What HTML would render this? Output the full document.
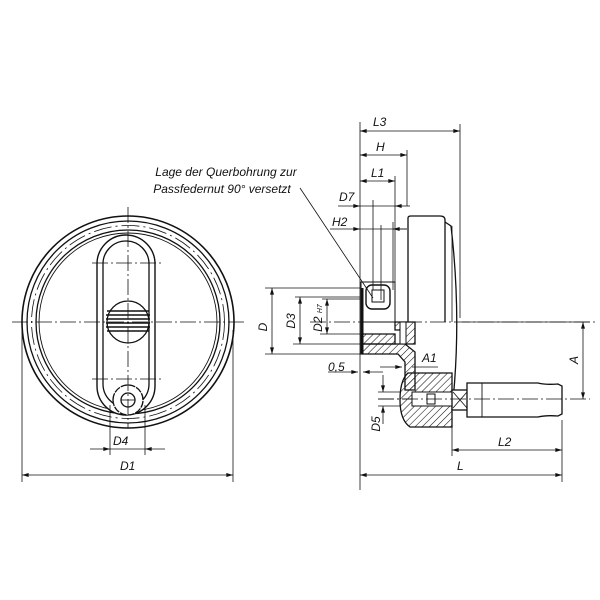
<!DOCTYPE html>
<html><head><meta charset="utf-8"><style>
html,body{margin:0;padding:0;background:#fff;}
svg{display:block;}
text{font-family:"Liberation Sans",sans-serif;font-style:italic;font-size:12px;fill:#111;}
</style></head><body>
<svg width="600" height="600" viewBox="0 0 600 600" xmlns="http://www.w3.org/2000/svg">
<defs>
<marker id="a" viewBox="0 0 10 6" refX="10" refY="3" markerWidth="9" markerHeight="5" orient="auto-start-reverse"><path d="M0,0 L10,3 L0,6 z" fill="#111"/></marker>
<pattern id="h" width="5" height="5" patternUnits="userSpaceOnUse" patternTransform="rotate(45)"><line x1="0" y1="0" x2="0" y2="5" stroke="#111" stroke-width="1.1"/></pattern>
</defs>
<g fill="none" stroke="#111" stroke-width="1.3">
<!-- LEFT WHEEL -->
<circle cx="128" cy="322" r="106" stroke-width="1.6"/>
<circle cx="128" cy="322" r="101"/>
<circle cx="128" cy="322" r="96.5" stroke-width="0.8" stroke-dasharray="18 4 2 4"/>
<circle cx="128" cy="322" r="92"/>
<circle cx="128" cy="322" r="89" stroke-width="0.9"/>
<rect x="97" y="235" width="58" height="180" rx="29" fill="#fff" stroke-width="1.4"/>
<rect x="103" y="241" width="46" height="166" rx="23" fill="#fff"/>
<circle cx="128" cy="322" r="21" fill="#fff"/>
<g stroke-width="1.6">
<line x1="107" y1="311" x2="149" y2="311"/><line x1="106" y1="315" x2="150" y2="315"/><line x1="106" y1="319" x2="150" y2="319"/><line x1="106" y1="323" x2="150" y2="323"/><line x1="106" y1="327" x2="150" y2="327"/><line x1="107" y1="331" x2="149" y2="331"/>
</g>
<path d="M113,400 a15,15 0 1 1 30,0 a15,15 0 1 1 -30,0" fill="#fff" stroke-dasharray="7 1"/>
<circle cx="128" cy="400" r="7"/>
<line x1="121" y1="400" x2="135" y2="400" stroke-width="0.8"/>
<g stroke-width="0.8" stroke-dasharray="16 3 2 3">
<line x1="12" y1="322" x2="245" y2="322"/>
<line x1="128" y1="207" x2="128" y2="428"/>
<line x1="92" y1="263" x2="164" y2="263"/>
<line x1="92" y1="379" x2="164" y2="379"/>
</g>
<g stroke-width="0.8">
<line x1="110" y1="405" x2="110" y2="455"/><line x1="145" y1="405" x2="145" y2="455"/>
<line x1="90" y1="449" x2="110" y2="449" marker-end="url(#a)"/><line x1="165" y1="449" x2="145" y2="449" marker-end="url(#a)"/>
<line x1="110" y1="449" x2="145" y2="449"/>
<line x1="22" y1="330" x2="22" y2="482"/><line x1="233" y1="330" x2="233" y2="482"/>
<line x1="22" y1="475" x2="233" y2="475" marker-start="url(#a)" marker-end="url(#a)"/>
</g>

<!-- RIGHT SIDE VIEW -->
<g stroke-width="0.8">
<line x1="360" y1="122" x2="360" y2="490"/>
<line x1="460" y1="124" x2="460" y2="318"/>
<line x1="360" y1="131" x2="460" y2="131" marker-start="url(#a)" marker-end="url(#a)"/>
<line x1="407" y1="150" x2="407" y2="206"/>
<line x1="360" y1="155" x2="407" y2="155" marker-start="url(#a)" marker-end="url(#a)"/>
<line x1="395" y1="176" x2="395" y2="290"/>
<line x1="360" y1="181" x2="395" y2="181" marker-start="url(#a)" marker-end="url(#a)"/>
<line x1="373" y1="200" x2="373" y2="290"/>
<line x1="338" y1="206" x2="360" y2="206" marker-end="url(#a)"/>
<line x1="410" y1="206" x2="395" y2="206" marker-end="url(#a)"/>
<line x1="360" y1="206" x2="395" y2="206"/>
<line x1="381" y1="225" x2="381" y2="300"/>
<line x1="330" y1="229" x2="360" y2="229" marker-end="url(#a)"/>
<line x1="407" y1="229" x2="393" y2="229" marker-end="url(#a)"/>
<line x1="393" y1="222" x2="393" y2="290"/>
<line x1="360" y1="229" x2="407" y2="229"/>
<line x1="300" y1="188" x2="373" y2="298"/>
<!-- D, D3, D2 -->
<line x1="265" y1="288" x2="360" y2="288"/><line x1="265" y1="354" x2="360" y2="354"/>
<line x1="272" y1="288" x2="272" y2="354" marker-start="url(#a)" marker-end="url(#a)"/>
<line x1="295" y1="297" x2="360" y2="297"/><line x1="293" y1="344" x2="360" y2="344"/>
<line x1="300" y1="297" x2="300" y2="344" marker-start="url(#a)" marker-end="url(#a)"/>
<line x1="322" y1="299" x2="360" y2="299"/><line x1="320" y1="334" x2="360" y2="334"/>
<line x1="327" y1="299" x2="327" y2="334" marker-start="url(#a)" marker-end="url(#a)"/>
<!-- centerlines -->
<line x1="310" y1="322" x2="595" y2="322" stroke-dasharray="16 3 2 3"/>
<line x1="378" y1="399" x2="590" y2="399" stroke-dasharray="16 3 2 3"/>
<!-- A -->
<line x1="462" y1="322" x2="590" y2="322"/>
<line x1="583" y1="322" x2="583" y2="399" marker-start="url(#a)" marker-end="url(#a)"/>
<!-- 0,5 and A1 -->
<line x1="328" y1="372" x2="358" y2="372" marker-end="url(#a)"/>
<line x1="383" y1="372" x2="363" y2="372" marker-end="url(#a)"/>
<line x1="380" y1="367" x2="402" y2="367" marker-end="url(#a)"/>
<line x1="412" y1="367" x2="438" y2="367"/>
<!-- D5 -->
<line x1="378" y1="392" x2="400" y2="392"/><line x1="378" y1="406" x2="400" y2="406"/>
<line x1="383" y1="375" x2="383" y2="392" marker-end="url(#a)"/>
<line x1="383" y1="424" x2="383" y2="406" marker-end="url(#a)"/>
<!-- L2, L -->
<line x1="452" y1="420" x2="452" y2="456"/>
<line x1="562" y1="420" x2="562" y2="482"/>
<line x1="452" y1="450" x2="562" y2="450" marker-start="url(#a)" marker-end="url(#a)"/>
<line x1="360" y1="475" x2="562" y2="475" marker-start="url(#a)" marker-end="url(#a)"/>
</g>
<!-- wheel side -->
<path d="M408,322 L408,218 Q408,216 411,216 L440,216 Q445,216 445,220 L445,322"/>
<path d="M445,222 L451,226 Q462,320 452,410" />
<line x1="452" y1="226" x2="452" y2="322" stroke-width="0.8"/>
<!-- hub -->
<rect x="361" y="282" width="34" height="40" stroke-width="1"/>
<path d="M362,288 L362,354" stroke-width="3"/>
<rect x="366" y="285" width="24" height="24" rx="6" stroke-width="1.4"/>
<rect x="372" y="290" width="12" height="12" stroke-width="1"/>
<path d="M361,334 L395,334 L395,344 L361,344 z" fill="url(#h)"/>
<path d="M361,344 L405,344 L415,352 L415,390 L405,390 L405,362 L398,354 L361,354 z" fill="url(#h)"/>
<path d="M395,322 L415,322 L415,344 L405,344 L405,330 L395,330 z" fill="url(#h)"/>
<rect x="400" y="322" width="6" height="22" fill="#fff" stroke-width="1"/>
<!-- knob section -->
<path d="M408,373 L452,373 L452,427 L410,427 Q400,420 400,400 Q400,380 408,373 z" fill="url(#h)"/>
<rect x="412" y="392" width="40" height="14" fill="#fff" stroke-width="1"/>
<rect x="427" y="394" width="8" height="10" fill="#fff" stroke-width="1"/>
<!-- handle -->
<rect x="452" y="390" width="16" height="20" fill="#fff"/>
<path d="M453,392 L467,408 M467,392 L453,408" stroke-width="0.8"/>
<path d="M467,383 L538,383 Q546,385 558,384 L562,386 L562,414 L558,416 Q546,415 538,417 L467,417 z" fill="#fff"/>
<line x1="482" y1="383" x2="482" y2="417" stroke-width="0.9"/>
<line x1="378" y1="399" x2="562" y2="399" stroke-width="0.8" stroke-dasharray="16 3 2 3"/>
</g>
<text x="113" y="445">D4</text>
<text x="120" y="470">D1</text>
<text x="373" y="126">L3</text>
<text x="376" y="151">H</text>
<text x="371" y="177">L1</text>
<text x="339" y="201">D7</text>
<text x="332" y="226">H2</text>
<text x="328" y="371">0,5</text>
<text x="422" y="362">A1</text>
<text x="498" y="446">L2</text>
<text x="457" y="470">L</text>
<text x="226" y="176" text-anchor="middle" font-size="11.5">Lage der Querbohrung zur</text>
<text x="222" y="193" text-anchor="middle" font-size="11.5">Passfedernut 90° versetzt</text>
<text transform="translate(267,327) rotate(-90)" text-anchor="middle">D</text>
<text transform="translate(295,321) rotate(-90)" text-anchor="middle">D3</text>
<text transform="translate(322,318) rotate(-90)" text-anchor="middle">D2 <tspan font-size="7">H7</tspan></text>
<text transform="translate(380,424) rotate(-90)" text-anchor="middle">D5</text>
<text transform="translate(578,360) rotate(-90)" text-anchor="middle">A</text>
</svg>
</body></html>
